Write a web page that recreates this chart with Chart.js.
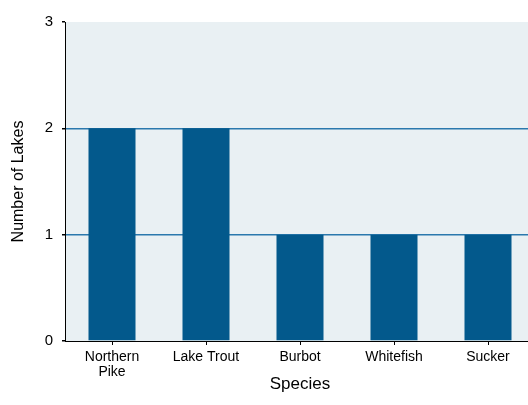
<!DOCTYPE html>
<html>
<head>
<meta charset="utf-8">
<script src="https://cdn.jsdelivr.net/npm/chart.js@4/dist/chart.umd.min.js"></script>
<style>
  html, body { margin: 0; padding: 0; overflow: hidden; background: #fff; }
  #wrap { width: 535px; height: 405px; }
</style>
</head>
<body>
<div id="wrap"><canvas id="myChart"></canvas></div>
<script>
// data
const species = [['Northern', 'Pike'], 'Lake Trout', 'Burbot', 'Whitefish', 'Sucker'];
const lakes = [2, 2, 1, 1, 1];
const yTicks = [0, 1, 2, 3];

const plotBg = {
    id: 'plotBg',
    beforeDraw(chart) {
        const a = chart.chartArea;
        const c = chart.ctx;
        c.save();
        c.fillStyle = '#e9f0f3';
        c.fillRect(a.left, a.top, a.right - a.left, a.bottom - a.top);
        c.restore();
    }
};

Chart.defaults.font.family = '"Liberation Sans", Arial, sans-serif';
Chart.defaults.color = '#000';

var ctx = document.getElementById('myChart').getContext('2d');
var chart = new Chart(ctx, {
    type: 'bar',
    data: {
        labels: species,
        datasets: [{
            data: lakes,
            backgroundColor: '#03598c',
            borderWidth: 0,
            barPercentage: 0.5,
            categoryPercentage: 1.0
        }]
    },
    options: {
        responsive: true,
        maintainAspectRatio: false,
        animation: false,
        layout: { padding: { top: 22, left: 0, right: 0, bottom: 0 } },
        plugins: { legend: { display: false }, tooltip: { enabled: false } },
        scales: {
            x: {
                offset: true,
                grid: {
                    offset: false,
                    drawOnChartArea: false,
                    drawTicks: true,
                    tickLength: 4,
                    tickColor: '#000'
                },
                border: { color: '#000', width: 1 },
                ticks: {
                    font: { size: 14, lineHeight: 1.1 },
                    padding: 4,
                    maxRotation: 0,
                    autoSkip: false
                },
                title: {
                    display: true,
                    text: 'Species',
                    font: { size: 17, lineHeight: 1.2 },
                    padding: { top: 0, bottom: 10 }
                },
                afterFit(scale) { scale.height = 64; }
            },
            y: {
                min: yTicks[0],
                max: yTicks[yTicks.length - 1],
                afterBuildTicks(scale) { scale.ticks = yTicks.map(v => ({ value: v })); },
                grid: {
                    color: c => (c.tick && (c.tick.value === 1 || c.tick.value === 2)) ? '#2b78ad' : 'rgba(0,0,0,0)',
                    lineWidth: 1.5,
                    drawTicks: true,
                    tickLength: 3,
                    tickColor: '#000'
                },
                border: { color: '#000', width: 1 },
                ticks: {
                    font: { size: 15 },
                    padding: 9
                },
                title: {
                    display: true,
                    text: 'Number of Lakes',
                    font: { size: 16, lineHeight: 1.2 },
                    padding: { top: 9, bottom: 0 }
                },
                afterFit(scale) { scale.width = 65; }
            }
        }
    },
    plugins: [plotBg]
});
</script>
</body>
</html>
